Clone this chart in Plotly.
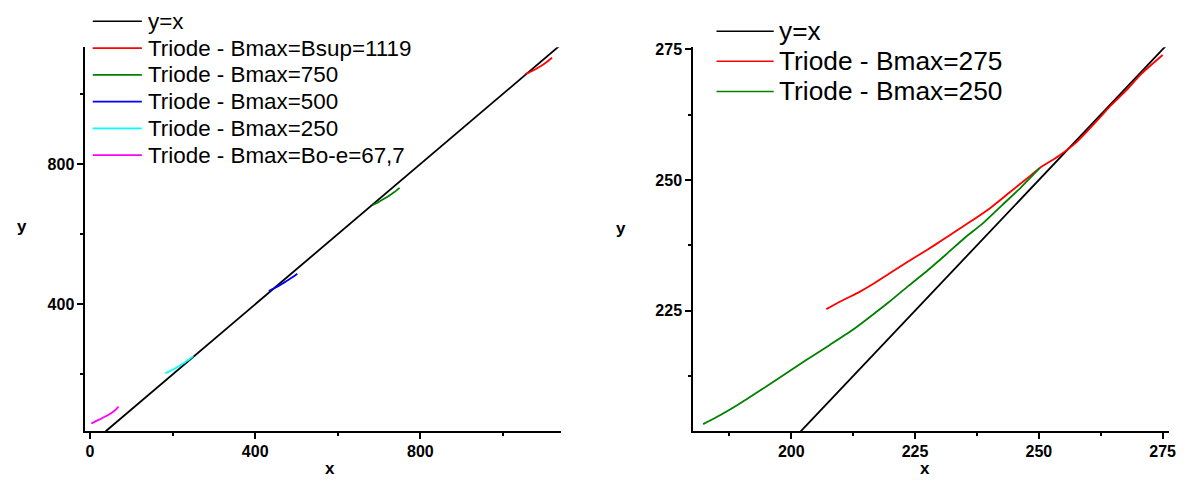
import plotly.graph_objects as go

# ---------------- data ----------------
# left panel
yx_left = [38, 1136]
b1119_x = [1054, 1067, 1080, 1093, 1106, 1119]
b1119_y = [1056, 1063, 1071, 1080, 1091, 1103]
b750_x = [685, 698, 711, 724, 737, 750]
b750_y = [683, 691, 700, 709.5, 720, 732]
b500_x = [433, 445, 457, 469, 481, 492, 502]
b500_y = [438, 445, 452.5, 461, 470, 478.5, 487]
b250_x = [182.2, 185.6, 189.4, 194.0, 199.3, 203.1, 207.7, 212.2, 216.0, 219.8,
          223.6, 227.4, 231.2, 235.0, 238.8, 242.6, 246.4, 250.2]
b250_y = [203.3, 205.0, 207.1, 209.9, 213.2, 215.6, 218.4, 221.2, 223.9, 226.7,
          229.7, 232.6, 235.7, 238.9, 241.8, 245.2, 248.6, 252.3]
boe_x = [3, 12, 22, 32, 42, 52, 61, 69]
boe_y = [60, 65.5, 71, 77, 83, 90, 98, 108]

# right panel
yx_right = [201.9, 275.6]
b275_x = [207.1, 210.0, 213.8, 216.0, 219.8, 223.6, 227.4, 230.5, 233.5, 236.6, 240.4,
          244.2, 248.0, 250.2, 254.0, 257.8, 261.6, 264.7, 267.7, 270.7, 275.0]
b275_y = [225.3, 226.8, 228.6, 229.8, 232.1, 234.4, 236.6, 238.5, 240.4, 242.3, 244.8,
          247.7, 250.6, 252.3, 254.6, 257.4, 261.2, 264.4, 267.2, 270.3, 273.9]

left_names = ["y=x", "Triode - Bmax=Bsup=1119", "Triode - Bmax=750", "Triode - Bmax=500",
              "Triode - Bmax=250", "Triode - Bmax=Bo-e=67,7"]
right_names = ["y=x", "Triode - Bmax=275", "Triode - Bmax=250"]
left_colors = ["black", "#ff0000", "#008000", "#0000ff", "#00ffff", "#ff00ff"]
right_colors = ["black", "#ff0000", "#008000"]

FONT = "Liberation Sans, Arial, sans-serif"
LW = 1.8
W, H = 1191, 488

fig = go.Figure()
left_data = [(yx_left, yx_left), (b1119_x, b1119_y), (b750_x, b750_y),
             (b500_x, b500_y), (b250_x, b250_y), (boe_x, boe_y)]
for (xs, ys), c, name in zip(left_data, left_colors, left_names):
    fig.add_trace(go.Scatter(x=xs, y=ys, mode="lines", name=name, showlegend=False,
                             line=dict(color=c, width=LW, shape="spline", smoothing=0.6),
                             xaxis="x", yaxis="y"))

right_data = [(yx_right, yx_right), (b275_x, b275_y), (b250_x, b250_y)]
for (xs, ys), c, name in zip(right_data, right_colors, right_names):
    fig.add_trace(go.Scatter(x=xs, y=ys, mode="lines", name=name, showlegend=False,
                             line=dict(color=c, width=LW, shape="spline", smoothing=0.6),
                             xaxis="x2", yaxis="y2"))

axis_common = dict(showline=True, linecolor="black", linewidth=2, ticks="outside",
                   ticklen=6, tickwidth=1.5, tickcolor="black", showgrid=False,
                   zeroline=False, mirror=False,
                   tickfont=dict(family=FONT, size=16, color="black", weight="bold"))

# ---- legends (drawn as line samples + text) ----
shapes = []
annotations = []


def add_legend(names, colors, x0, x1, xt, y0, dy, fsize):
    for i, (n, c) in enumerate(zip(names, colors)):
        yc = y0 + i * dy
        shapes.append(dict(type="line", xref="paper", yref="paper",
                           x0=x0 / W, x1=x1 / W, y0=1 - yc / H, y1=1 - yc / H,
                           line=dict(color=c, width=1.6)))
        annotations.append(dict(text=n, x=xt / W, y=1 - yc / H, xref="paper", yref="paper",
                                xanchor="left", yanchor="middle", showarrow=False,
                                font=dict(family=FONT, size=fsize, color="black")))


add_legend(left_names, left_colors, 93.3, 142.7, 146.5, 15.5, 27.1, 22.4)
add_legend(right_names, right_colors, 720.7, 778.3, 781.5, 25.5, 30.5, 26.3)

tfont = dict(family=FONT, size=17, color="black", weight="bold")
for txt, px, py in [("y", 16, 223), ("x", 326, 479), ("y", 625, 225), ("x", 937, 479)]:
    annotations.append(dict(text=txt, x=px / W, y=1 - py / H, xref="paper", yref="paper",
                            showarrow=False, font=tfont, borderpad=0))

ydom = [0.1174, 0.9145]
minor_l = dict(ticks="outside", ticklen=3, tickwidth=1.5, tickcolor="black", dtick=200, tick0=0)
minor_r = dict(ticks="outside", ticklen=3, tickwidth=1.5, tickcolor="black", dtick=12.5, tick0=0)
fig.update_layout(
    width=W, height=H,
    margin=dict(l=0, r=0, t=0, b=0),
    paper_bgcolor="white", plot_bgcolor="white",
    showlegend=False,
    xaxis=dict(domain=[0.0722, 0.4736], range=[-11, 1140], anchor="y", dtick=400, tick0=0,
               minor=minor_l, ticklabelstandoff=-2, **axis_common),
    yaxis=dict(domain=ydom, range=[37.5, 1133], anchor="x", dtick=400, tick0=0,
               minor=minor_l, **axis_common),
    xaxis2=dict(domain=[0.5855, 0.9874], range=[180.2, 276.3], anchor="y2", dtick=25, tick0=0,
                minor=minor_r, ticklabelstandoff=-2, **axis_common),
    yaxis2=dict(domain=ydom, range=[201.9, 275.4], anchor="x2", dtick=25, tick0=0,
                minor=minor_r, **axis_common),
    shapes=shapes,
    annotations=annotations,
)

fig.write_html("out.html", config={"displayModeBar": False},
               post_script="document.body.style.margin='0px';document.body.style.overflow='hidden';")
